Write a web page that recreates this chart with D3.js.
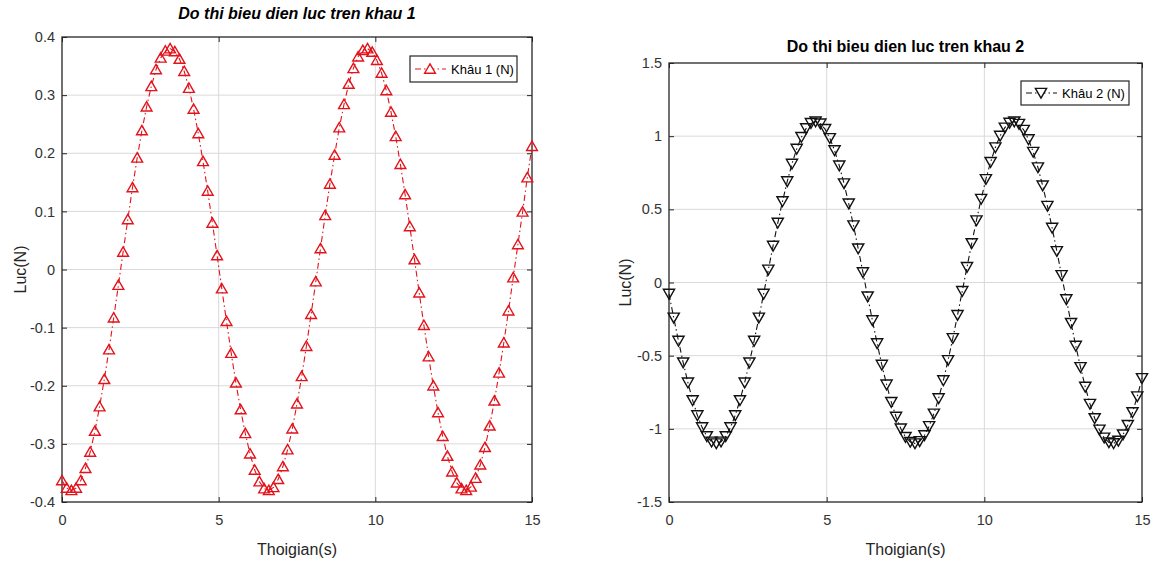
<!DOCTYPE html>
<html>
<head>
<meta charset="utf-8">
<script src="https://cdn.jsdelivr.net/npm/d3@7"></script>
<style>
  html, body { margin: 0; padding: 0; background: #ffffff; }
  svg { display: block; font-family: "Liberation Sans", Arial, Helvetica, sans-serif; }
</style>
</head>
<body>
<svg id="chart" width="1153" height="562"></svg>
<script>
// time samples (s)
const times = [
  0, 0.15, 0.3, 0.45, 0.6, 0.75, 0.9, 1.05, 1.2, 1.35,
  1.5, 1.65, 1.8, 1.95, 2.1, 2.25, 2.4, 2.55, 2.7, 2.85,
  3, 3.15, 3.3, 3.45, 3.6, 3.75, 3.9, 4.05, 4.2, 4.35,
  4.5, 4.65, 4.8, 4.95, 5.1, 5.25, 5.4, 5.55, 5.7, 5.85,
  6, 6.15, 6.3, 6.45, 6.6, 6.75, 6.9, 7.05, 7.2, 7.35,
  7.5, 7.65, 7.8, 7.95, 8.1, 8.25, 8.4, 8.55, 8.7, 8.85,
  9, 9.15, 9.3, 9.45, 9.6, 9.75, 9.9, 10.05, 10.2, 10.35,
  10.5, 10.65, 10.8, 10.95, 11.1, 11.25, 11.4, 11.55, 11.7, 11.85,
  12, 12.15, 12.3, 12.45, 12.6, 12.75, 12.9, 13.05, 13.2, 13.35,
  13.5, 13.65, 13.8, 13.95, 14.1, 14.25, 14.4, 14.55, 14.7, 14.85,
  15
];

// luc tren khau 1 (N)
const khau1 = [
  -0.363, -0.376, -0.380, -0.376, -0.363, -0.342, -0.314, -0.278, -0.236, -0.189,
  -0.138, -0.083, -0.027, 0.030, 0.086, 0.141, 0.192, 0.239, 0.280, 0.315,
  0.344, 0.364, 0.376, 0.380, 0.375, 0.362, 0.341, 0.312, 0.276, 0.234,
  0.186, 0.135, 0.080, 0.024, -0.033, -0.089, -0.144, -0.195, -0.241, -0.282,
  -0.317, -0.345, -0.365, -0.377, -0.380, -0.375, -0.361, -0.339, -0.310, -0.274,
  -0.231, -0.184, -0.132, -0.077, -0.021, 0.036, 0.093, 0.147, 0.197, 0.244,
  0.284, 0.319, 0.346, 0.366, 0.377, 0.380, 0.374, 0.360, 0.338, 0.308,
  0.271, 0.229, 0.181, 0.129, 0.074, 0.017, -0.040, -0.096, -0.150, -0.200,
  -0.246, -0.287, -0.321, -0.348, -0.367, -0.377, -0.380, -0.374, -0.359, -0.336,
  -0.306, -0.269, -0.226, -0.178, -0.126, -0.071, -0.014, 0.043, 0.099, 0.158,
  0.212
];

// luc tren khau 2 (N)
const khau2 = [
  -0.078, -0.241, -0.399, -0.547, -0.684, -0.805, -0.908, -0.990, -1.051, -1.088,
  -1.100, -1.088, -1.051, -0.990, -0.908, -0.805, -0.684, -0.547, -0.399, -0.241,
  -0.078, 0.087, 0.250, 0.408, 0.555, 0.691, 0.811, 0.913, 0.994, 1.053,
  1.089, 1.100, 1.086, 1.048, 0.986, 0.903, 0.799, 0.677, 0.539, 0.390,
  0.232, 0.069, -0.096, -0.259, -0.416, -0.563, -0.698, -0.817, -0.918, -0.998,
  -1.056, -1.090, -1.100, -1.085, -1.045, -0.982, -0.897, -0.792, -0.669, -0.531,
  -0.381, -0.223, -0.059, 0.105, 0.268, 0.424, 0.571, 0.706, 0.823, 0.923,
  1.002, 1.058, 1.091, 1.100, 1.083, 1.042, 0.978, 0.892, 0.786, 0.662,
  0.523, 0.373, 0.214, 0.050, -0.115, -0.277, -0.433, -0.579, -0.713, -0.830,
  -0.928, -1.006, -1.061, -1.093, -1.099, -1.082, -1.039, -0.974, -0.887, -0.779,
  -0.654
];

const xTicks = [0, 5, 10, 15];
const yTicks1 = [-0.4, -0.3, -0.2, -0.1, 0, 0.1, 0.2, 0.3, 0.4];
const yTicks2 = [-1.5, -1, -0.5, 0, 0.5, 1, 1.5];

const triUp = "M0,-5.2L5.4,4.2L-5.4,4.2Z";
const triDown = "M0,5.2L5.6,-4.6L-5.6,-4.6Z";

const svg = d3.select("#chart");

const drawPanel = (cfg) => {
  const { box } = cfg;
  const x = d3.scaleLinear().domain([0, 15]).range([box.x0, box.x1]);
  const y = d3.scaleLinear().domain(cfg.yDomain).range([box.y1, box.y0]);
  const g = svg.append("g");

  // grid
  g.append("g").selectAll("line.gx")
    .data(xTicks.slice(1, -1))
    .enter().append("line")
    .attr("x1", d => x(d)).attr("x2", d => x(d))
    .attr("y1", box.y0).attr("y2", box.y1)
    .attr("stroke", "#d9d9d9").attr("stroke-width", 1);
  g.append("g").selectAll("line.gy")
    .data(cfg.yTicks.slice(1, -1))
    .enter().append("line")
    .attr("x1", box.x0).attr("x2", box.x1)
    .attr("y1", d => y(d)).attr("y2", d => y(d))
    .attr("stroke", "#d9d9d9").attr("stroke-width", 1);

  const fmt = d => String(d);

  // axes (ticks pointing inward, like matlab)
  const axB = g.append("g").attr("transform", `translate(0,${box.y1})`)
    .call(d3.axisBottom(x).tickValues(xTicks).tickFormat(fmt).tickSize(-5).tickSizeOuter(0).tickPadding(13));
  const axL = g.append("g").attr("transform", `translate(${box.x0},0)`)
    .call(d3.axisLeft(y).tickValues(cfg.yTicks).tickFormat(fmt).tickSize(-5).tickSizeOuter(0).tickPadding(7));
  g.append("g").attr("transform", `translate(0,${box.y0})`)
    .call(d3.axisTop(x).tickValues(xTicks).tickFormat("").tickSize(-5).tickSizeOuter(0));
  g.append("g").attr("transform", `translate(${box.x1},0)`)
    .call(d3.axisRight(y).tickValues(cfg.yTicks).tickFormat("").tickSize(-5).tickSizeOuter(0));

  g.selectAll(".domain").remove();
  g.selectAll(".tick line").attr("stroke", "#262626");
  [axB, axL].forEach(a => a.selectAll("text")
    .attr("fill", "#333333")
    .style("font-size", "14.5px")
    .style("font-family", "'Liberation Sans', Arial, sans-serif"));

  // box
  g.append("rect")
    .attr("x", box.x0).attr("y", box.y0)
    .attr("width", box.x1 - box.x0).attr("height", box.y1 - box.y0)
    .attr("fill", "none").attr("stroke", "#262626").attr("stroke-width", 1.3);

  // series
  const pts = times.map((t, i) => ({ t, v: cfg.values[i] }));
  const line = d3.line().x(d => x(d.t)).y(d => y(d.v));
  g.append("path")
    .datum(pts)
    .attr("d", line)
    .attr("fill", "none")
    .attr("stroke", cfg.color)
    .attr("stroke-width", 1.1)
    .attr("stroke-dasharray", "6,3,1.5,3");

  g.selectAll(".mk")
    .data(pts)
    .enter().append("path")
    .attr("class", "mk")
    .attr("d", cfg.marker)
    .attr("transform", d => `translate(${x(d.t)},${y(d.v)})`)
    .attr("fill", "none")
    .attr("stroke", cfg.color)
    .attr("stroke-width", 1.4);

  // title
  g.append("text")
    .attr("x", (box.x0 + box.x1) / 2)
    .attr("y", cfg.titleY)
    .attr("text-anchor", "middle")
    .style("font-size", "16px")
    .style("font-weight", "bold")
    .style("font-style", cfg.italic ? "italic" : "normal")
    .attr("fill", "#000")
    .text(cfg.title);

  // axis labels
  g.append("text")
    .attr("x", (box.x0 + box.x1) / 2)
    .attr("y", 555)
    .attr("text-anchor", "middle")
    .style("font-size", "16px")
    .attr("fill", "#262626")
    .text("Thoigian(s)");
  g.append("text")
    .attr("transform", `translate(${cfg.ylabelX},${(box.y0 + box.y1) / 2}) rotate(-90)`)
    .attr("text-anchor", "middle")
    .attr("dy", "0.35em")
    .style("font-size", "16px")
    .attr("fill", "#262626")
    .text("Luc(N)");

  // legend
  const lg = cfg.legend;
  g.append("rect")
    .attr("x", lg.x0).attr("y", lg.y0)
    .attr("width", lg.x1 - lg.x0).attr("height", lg.y1 - lg.y0)
    .attr("fill", "#fff").attr("stroke", "#262626").attr("stroke-width", 1.2);
  const ly = (lg.y0 + lg.y1) / 2;
  g.append("line")
    .attr("x1", lg.x0 + 5).attr("x2", lg.x0 + 36)
    .attr("y1", ly).attr("y2", ly)
    .attr("stroke", cfg.color).attr("stroke-width", 1.1)
    .attr("stroke-dasharray", "6,3,1.5,3");
  g.append("path")
    .attr("d", cfg.marker)
    .attr("transform", `translate(${lg.x0 + 20},${ly})`)
    .attr("fill", "#fff").attr("stroke", cfg.color).attr("stroke-width", 1.4);
  g.append("text")
    .attr("x", lg.x0 + 41).attr("y", ly)
    .attr("dy", "0.35em")
    .style("font-size", "13px")
    .attr("fill", "#000")
    .text(cfg.legendText);
};

drawPanel({
  box: { x0: 62, x1: 532, y0: 37, y1: 502 },
  yDomain: [-0.4, 0.4],
  yTicks: yTicks1,
  values: khau1,
  color: "#e3121b",
  marker: triUp,
  title: "Do thi bieu dien luc tren khau 1",
  titleY: 19,
  italic: true,
  ylabelX: 20,
  legend: { x0: 410, x1: 517, y0: 56, y1: 82 },
  legendText: "Khâu 1 (N)"
});

drawPanel({
  box: { x0: 669, x1: 1142, y0: 63, y1: 502 },
  yDomain: [-1.5, 1.5],
  yTicks: yTicks2,
  values: khau2,
  color: "#111111",
  marker: triDown,
  title: "Do thi bieu dien luc tren khau 2",
  titleY: 52,
  italic: false,
  ylabelX: 625,
  legend: { x0: 1021, x1: 1129, y0: 81, y1: 105 },
  legendText: "Khâu 2 (N)"
});
</script>
</body>
</html>
